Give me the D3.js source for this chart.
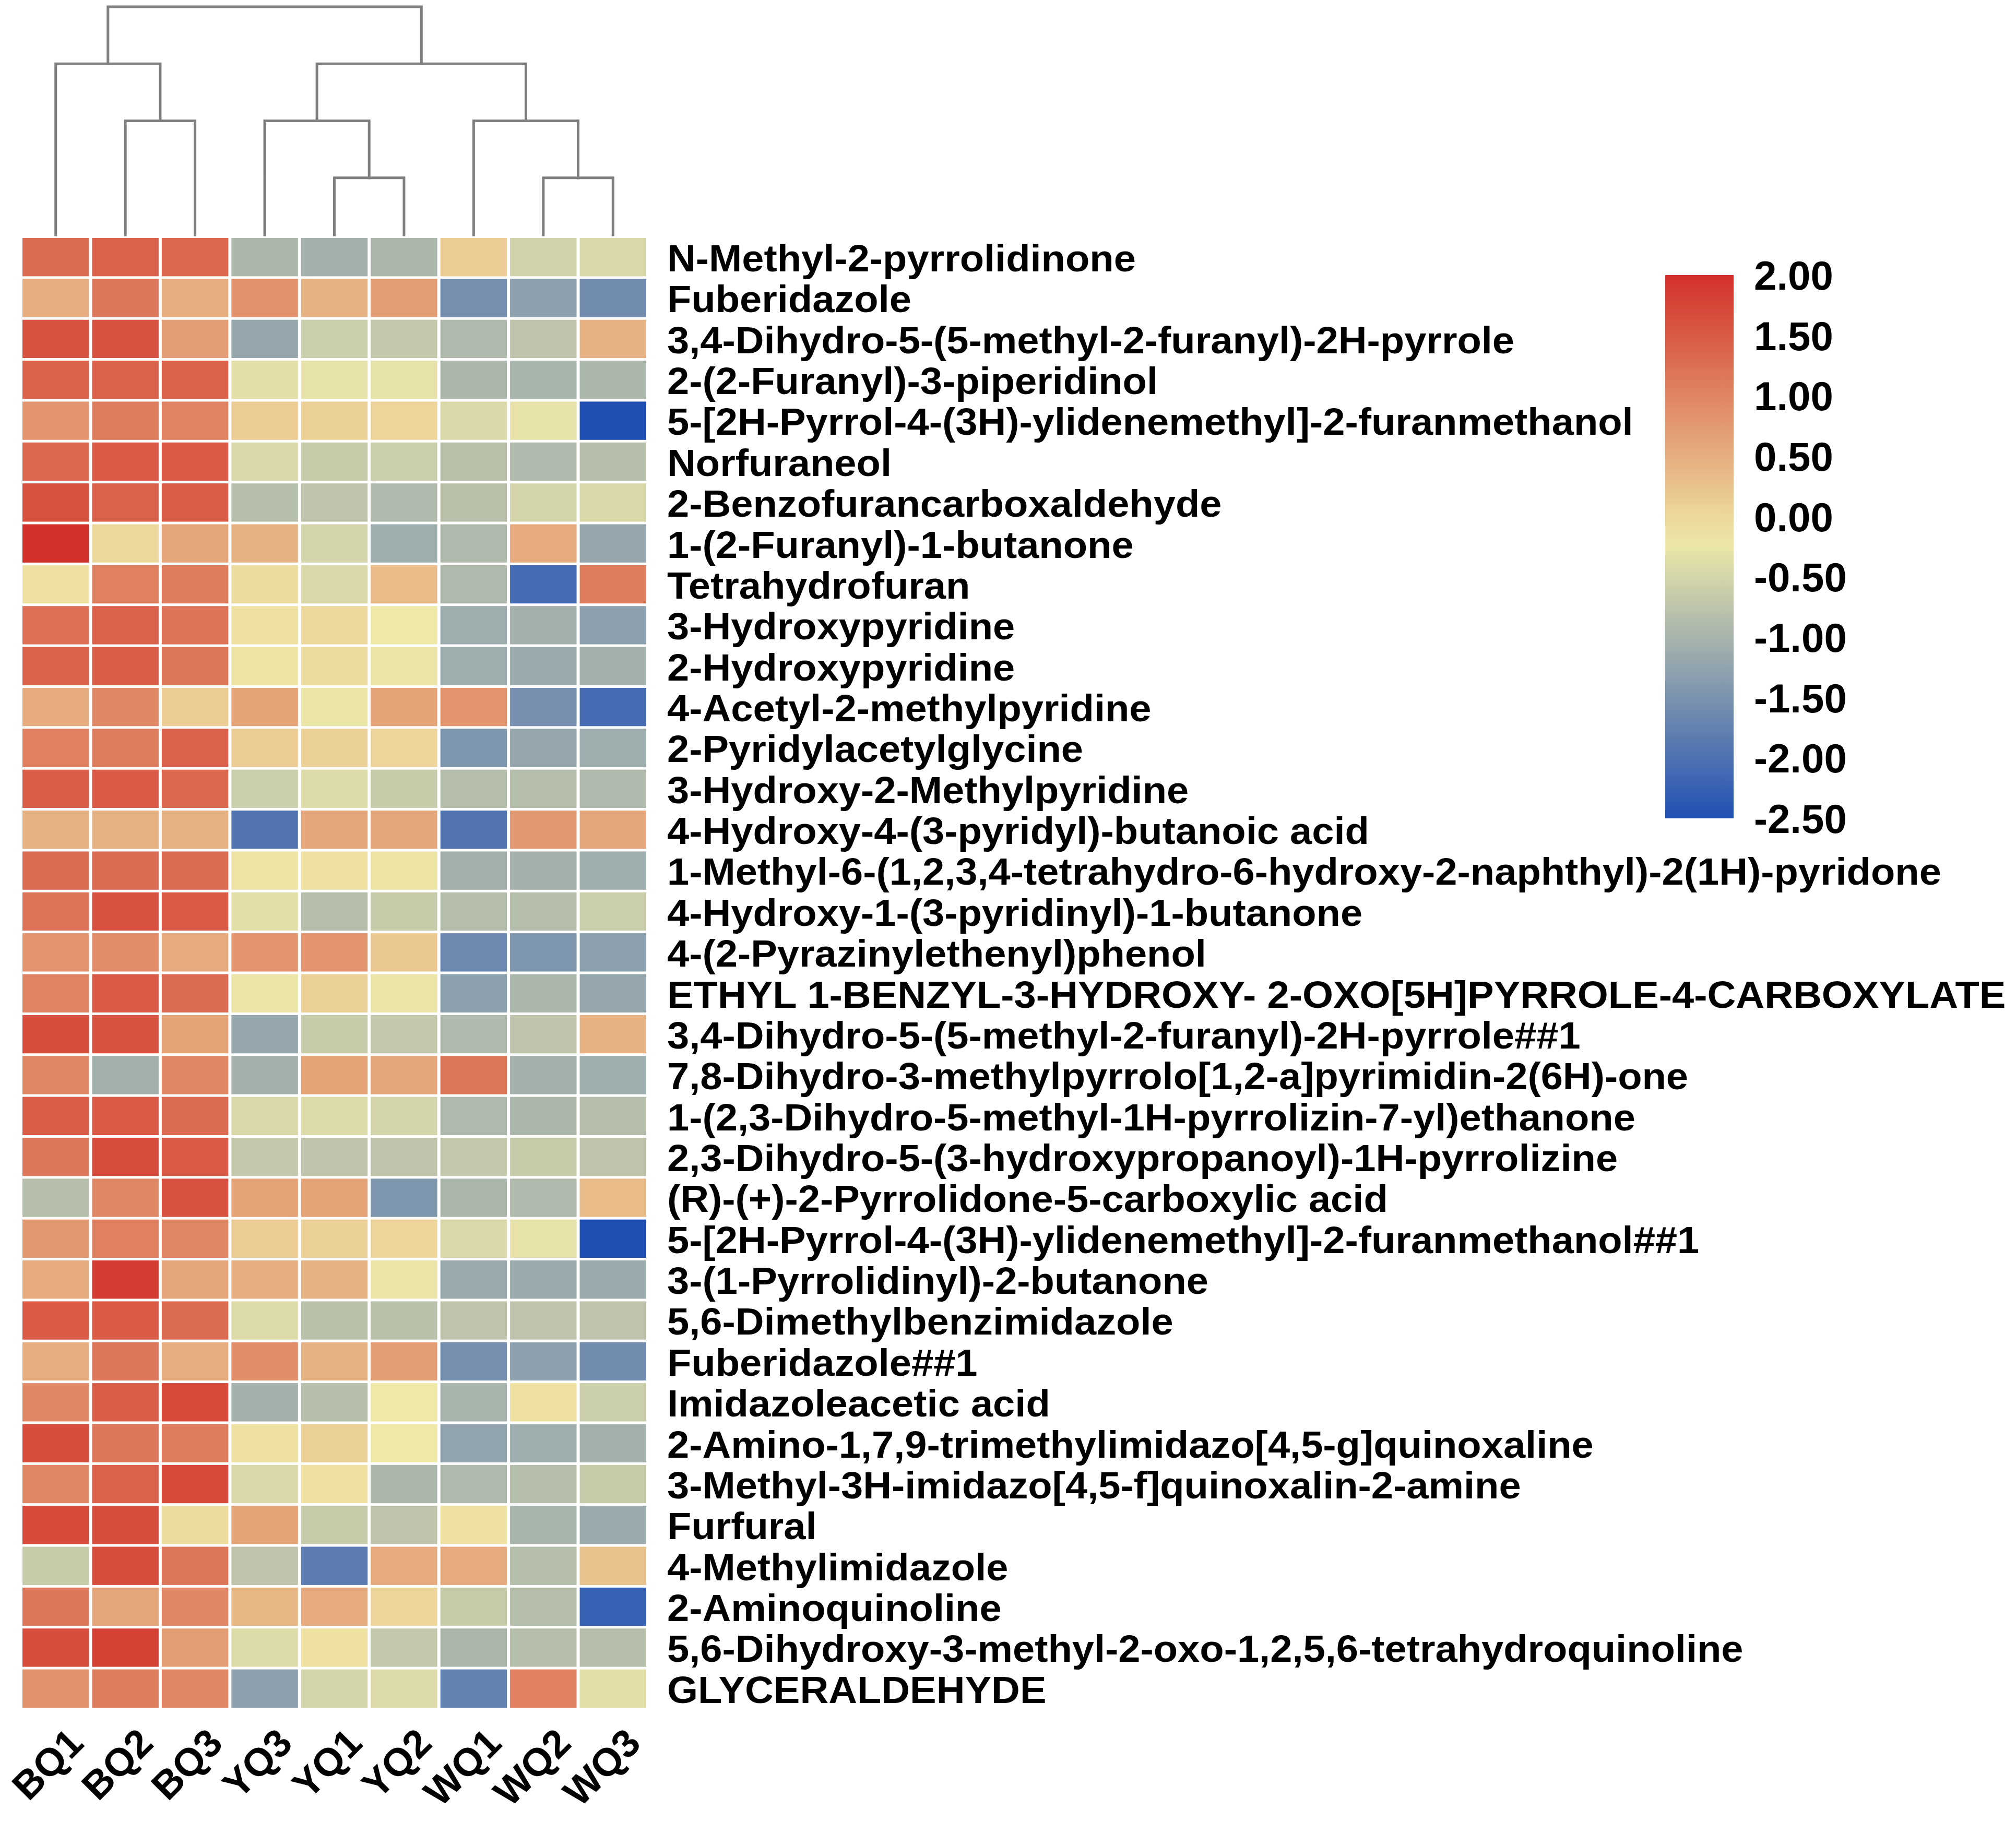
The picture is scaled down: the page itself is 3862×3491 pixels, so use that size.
<!DOCTYPE html>
<html>
<head>
<meta charset="utf-8">
<script src="https://cdn.jsdelivr.net/npm/d3@7"></script>
<style>
  html, body { margin: 0; padding: 0; background: #ffffff; }
  svg { display: block; }
</style>
</head>
<body>
<script>
// ---------------- data ----------------
const columns = ["BQ1","BQ2","BQ3","YQ3","YQ1","YQ2","WQ1","WQ2","WQ3"];

const rowLabels = [
  "N-Methyl-2-pyrrolidinone",
  "Fuberidazole",
  "3,4-Dihydro-5-(5-methyl-2-furanyl)-2H-pyrrole",
  "2-(2-Furanyl)-3-piperidinol",
  "5-[2H-Pyrrol-4-(3H)-ylidenemethyl]-2-furanmethanol",
  "Norfuraneol",
  "2-Benzofurancarboxaldehyde",
  "1-(2-Furanyl)-1-butanone",
  "Tetrahydrofuran",
  "3-Hydroxypyridine",
  "2-Hydroxypyridine",
  "4-Acetyl-2-methylpyridine",
  "2-Pyridylacetylglycine",
  "3-Hydroxy-2-Methylpyridine",
  "4-Hydroxy-4-(3-pyridyl)-butanoic acid",
  "1-Methyl-6-(1,2,3,4-tetrahydro-6-hydroxy-2-naphthyl)-2(1H)-pyridone",
  "4-Hydroxy-1-(3-pyridinyl)-1-butanone",
  "4-(2-Pyrazinylethenyl)phenol",
  "ETHYL 1-BENZYL-3-HYDROXY- 2-OXO[5H]PYRROLE-4-CARBOXYLATE",
  "3,4-Dihydro-5-(5-methyl-2-furanyl)-2H-pyrrole##1",
  "7,8-Dihydro-3-methylpyrrolo[1,2-a]pyrimidin-2(6H)-one",
  "1-(2,3-Dihydro-5-methyl-1H-pyrrolizin-7-yl)ethanone",
  "2,3-Dihydro-5-(3-hydroxypropanoyl)-1H-pyrrolizine",
  "(R)-(+)-2-Pyrrolidone-5-carboxylic acid",
  "5-[2H-Pyrrol-4-(3H)-ylidenemethyl]-2-furanmethanol##1",
  "3-(1-Pyrrolidinyl)-2-butanone",
  "5,6-Dimethylbenzimidazole",
  "Fuberidazole##1",
  "Imidazoleacetic acid",
  "2-Amino-1,7,9-trimethylimidazo[4,5-g]quinoxaline",
  "3-Methyl-3H-imidazo[4,5-f]quinoxalin-2-amine",
  "Furfural",
  "4-Methylimidazole",
  "2-Aminoquinoline",
  "5,6-Dihydroxy-3-methyl-2-oxo-1,2,5,6-tetrahydroquinoline",
  "GLYCERALDEHYDE"
];

// z-scores, one row per compound, in column order above
const values = [
  [ 1.30, 1.40, 1.35,-0.95,-1.05,-0.95, 0.15,-0.55,-0.45],
  [ 0.50, 1.15, 0.50, 0.85, 0.45, 0.70,-1.55,-1.30,-1.60],
  [ 1.60, 1.60, 0.70,-1.20,-0.60,-0.70,-0.90,-0.75, 0.45],
  [ 1.40, 1.40, 1.40,-0.35,-0.30,-0.30,-0.95,-1.00,-0.95],
  [ 0.80, 1.10, 1.00, 0.15, 0.10, 0.05,-0.45,-0.30,-2.50],
  [ 1.35, 1.50, 1.50,-0.45,-0.65,-0.60,-0.80,-0.90,-0.85],
  [ 1.60, 1.40, 1.45,-0.85,-0.75,-0.90,-0.80,-0.50,-0.45],
  [ 2.00, 0.00, 0.60, 0.45,-0.50,-1.10,-0.90, 0.55,-1.20],
  [-0.10, 1.05, 1.10,-0.05,-0.45, 0.35,-0.90,-2.10, 1.10],
  [ 1.25, 1.40, 1.20,-0.10, 0.00,-0.20,-1.10,-1.05,-1.30],
  [ 1.40, 1.45, 1.15,-0.15,-0.05,-0.25,-1.10,-1.15,-1.05],
  [ 0.55, 0.95, 0.15, 0.65,-0.25, 0.65, 0.80,-1.55,-2.10],
  [ 1.05, 1.10, 1.40, 0.15, 0.10, 0.05,-1.45,-1.20,-1.10],
  [ 1.45, 1.50, 1.35,-0.60,-0.40,-0.65,-0.85,-0.85,-0.90],
  [ 0.45, 0.45, 0.45,-1.95, 0.60, 0.60,-1.95, 0.75, 0.60],
  [ 1.30, 1.30, 1.30,-0.15,-0.10,-0.15,-1.05,-1.05,-1.10],
  [ 1.20, 1.60, 1.50,-0.35,-0.85,-0.65,-0.85,-0.85,-0.60],
  [ 0.80, 0.90, 0.55, 0.80, 0.80, 0.20,-1.65,-1.45,-1.30],
  [ 1.00, 1.50, 1.30,-0.25, 0.10,-0.25,-1.30,-0.95,-1.20],
  [ 1.65, 1.60, 0.65,-1.20,-0.65,-0.70,-0.90,-0.75, 0.45],
  [ 0.95,-1.05, 0.95,-1.05, 0.65, 0.60, 1.15,-1.05,-1.10],
  [ 1.45, 1.50, 1.30,-0.45,-0.40,-0.50,-0.90,-0.95,-0.85],
  [ 1.15, 1.65, 1.50,-0.70,-0.75,-0.75,-0.70,-0.65,-0.75],
  [-0.85, 0.95, 1.60, 0.65, 0.65,-1.45,-0.95,-0.90, 0.35],
  [ 0.75, 1.05, 0.95, 0.15, 0.10, 0.05,-0.45,-0.30,-2.50],
  [ 0.55, 1.85, 0.60, 0.50, 0.45,-0.25,-1.15,-1.15,-1.15],
  [ 1.50, 1.50, 1.30,-0.40,-0.80,-0.80,-0.75,-0.75,-0.75],
  [ 0.50, 1.15, 0.50, 0.90, 0.45, 0.70,-1.55,-1.30,-1.60],
  [ 0.95, 1.45, 1.70,-1.05,-0.85,-0.20,-1.00,-0.10,-0.60],
  [ 1.65, 1.15, 1.10,-0.10, 0.10,-0.20,-1.25,-1.10,-1.05],
  [ 0.95, 1.40, 1.70,-0.45,-0.10,-0.95,-0.90,-0.85,-0.65],
  [ 1.70, 1.65,-0.05, 0.65,-0.65,-0.75,-0.10,-1.00,-1.15],
  [-0.65, 1.65, 1.15,-0.75,-1.85, 0.55, 0.55,-0.85, 0.25],
  [ 1.15, 0.60, 0.95, 0.40, 0.55, 0.05,-0.65,-0.85,-2.25],
  [ 1.65, 1.80, 0.70,-0.40,-0.10,-0.70,-0.95,-0.85,-0.85],
  [ 0.85, 1.10, 0.95,-1.30,-0.50,-0.40,-1.75, 1.05,-0.35]
];

// column dendrogram: [left, right, height]; "m<i>" refers to merge i
const merges = [
  ["YQ1","YQ2",1],
  ["WQ2","WQ3",1],
  ["BQ2","BQ3",2],
  ["YQ3","m0",2],
  ["WQ1","m1",2],
  ["BQ1","m2",3],
  ["m3","m4",3],
  ["m5","m6",4]
];

const legendTicks = [2.0, 1.5, 1.0, 0.5, 0.0, -0.5, -1.0, -1.5, -2.0, -2.5];

// colour ramp stops
const colorDomain = [-2.5, -0.2, 2.0];
const colorRange  = ["#2150b4", "#efe9a8", "#d2302a"];

// ---------------- drawing ----------------
const W = 3862, H = 3491;
const svg = d3.select("body").append("svg")
  .attr("width", W).attr("height", H)
  .attr("viewBox", `0 0 ${W} ${H}`)
  .style("font-family", "'Liberation Sans', Arial, Helvetica, sans-serif")
  .style("font-weight", "bold");

const color = d3.scaleLinear().domain(colorDomain).range(colorRange)
  .interpolate(d3.interpolateRgb).clamp(true);

const x = d3.scaleBand().domain(columns).range([40, 1241]);
const y = d3.scaleBand().domain(rowLabels).range([453.5, 3274.5]);

// cells
const cells = [];
values.forEach((row, i) => row.forEach((v, j) => cells.push({r: rowLabels[i], c: columns[j], v})));
svg.append("g").selectAll("rect").data(cells).join("rect")
  .attr("x", d => x(d.c) + 3)
  .attr("y", d => y(d.r) + 2.5)
  .attr("width", x.bandwidth() - 6)
  .attr("height", y.bandwidth() - 5)
  .attr("fill", d => color(d.v));

// dendrogram
const hScale = d3.scaleLinear().domain([0, 4]).range([450, 13]);
const nodes = {};
columns.forEach(c => nodes[c] = {x: x(c) + x.bandwidth() / 2, h: 0});
const dendro = svg.append("g")
  .attr("fill", "none").attr("stroke", "#7f7f7f").attr("stroke-width", 5)
  .attr("stroke-linecap", "square");
merges.forEach((m, i) => {
  const a = nodes[m[0]], b = nodes[m[1]], h = m[2];
  const yy = hScale(h);
  dendro.append("path")
    .attr("d", `M${a.x},${hScale(a.h)}V${yy}H${b.x}V${hScale(b.h)}`)
    .attr("stroke-linejoin", "miter");
  nodes["m" + i] = {x: (a.x + b.x) / 2, h};
});

// row labels
const rowG = svg.append("g").attr("transform", "translate(1278,0) scale(1.054,1)");
rowG.selectAll("text").data(rowLabels).join("text")
  .attr("x", 0)
  .attr("y", d => y(d) + y.bandwidth() / 2)
  .attr("dy", "0.38em")
  .attr("font-size", 72)
  .attr("fill", "#000")
  .text(d => d);

// column labels (rotated)
svg.append("g").selectAll("text").data(columns).join("text")
  .attr("transform", d => `translate(${x(d) + x.bandwidth() / 2 + 57},3344) rotate(-45)`)
  .attr("text-anchor", "end")
  .attr("font-size", 75)
  .attr("fill", "#000")
  .text(d => d);

// legend
const lx = 3190, lw = 131;
const ly = d3.scaleLinear().domain([2.0, -2.5]).range([527, 1568]);
const defs = svg.append("defs");
const grad = defs.append("linearGradient").attr("id", "lg")
  .attr("x1", 0).attr("y1", 0).attr("x2", 0).attr("y2", 1);
const gStops = d3.range(0, 21).map(k => 2.0 - k * 4.5 / 20);
grad.selectAll("stop").data(gStops).join("stop")
  .attr("offset", d => (ly(d) - ly(2.0)) / (ly(-2.5) - ly(2.0)))
  .attr("stop-color", d => color(d));
svg.append("rect")
  .attr("x", lx).attr("y", ly(2.0))
  .attr("width", lw).attr("height", ly(-2.5) - ly(2.0))
  .attr("fill", "url(#lg)");

const fmt = d3.formatLocale({decimal: ".", thousands: ",", grouping: [3], currency: ["", ""], minus: "-"}).format(".2f");
svg.append("g").selectAll("text").data(legendTicks).join("text")
  .attr("x", 3360)
  .attr("y", d => ly(d))
  .attr("dy", "0.36em")
  .attr("font-size", 78)
  .attr("fill", "#000")
  .text(d => fmt(d));
</script>
</body>
</html>
